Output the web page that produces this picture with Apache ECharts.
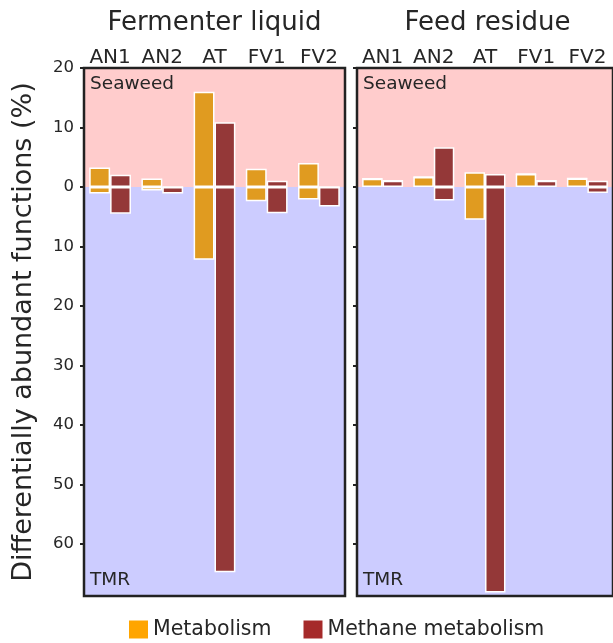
<!DOCTYPE html>
<html>
<head>
<meta charset="utf-8">
<script src="https://cdn.jsdelivr.net/npm/echarts@6/dist/echarts.min.js"></script>
<style>
html,body{margin:0;padding:0;background:#fff;}
#chart{width:613px;height:643px;}
</style>
</head>
<body>
<div id="chart"></div>
<script>
// ---- data ----
const categories = ['AN1', 'AN2', 'AT', 'FV1', 'FV2'];
const panelTitles = ['Fermenter liquid', 'Feed residue'];
const regionLabels = ['Seaweed', 'TMR'];
const seriesNames = ['Metabolism', 'Methane metabolism'];
const yTicks = [-60, -50, -40, -30, -20, -10, 0, 10, 20];

// Fermenter liquid
const fermMetSeaweed  = [3.3, 1.45, 16.0, 3.07, 4.03];
const fermMetTMR      = [-1.1, -0.6, -12.2, -2.4, -2.1];
const fermMethSeaweed = [2.07, 0, 10.9, 1.06, 0];
const fermMethTMR     = [-4.5, -1.1, -64.7, -4.4, -3.25];
// Feed residue
const feedMetSeaweed  = [1.4, 1.68, 2.5, 2.18, 1.45];
const feedMetTMR      = [0, 0, -5.5, 0, 0];
const feedMethSeaweed = [1.06, 6.7, 2.18, 1.06, 1.06];
const feedMethTMR     = [0, -2.25, -68.1, 0, -1.0];

const yMin = -68.7, yMax = 20;

// ---- styles ----
const FONT = 'DejaVu Sans';
const TXT = '#262626';
const barColors = ['#E09B20', '#943838'];
const legendColors = ['#FFA500', '#A52A2A'];
const pink = '#FFCCCC', blue = '#CCCCFF';

const chart = echarts.init(document.getElementById('chart'));

const gridLefts = [84, 357];
const gridTop = 68, gridW = 261, gridH = 528;
const grids = gridLefts.map(l => ({
  left: l, top: gridTop, width: gridW, height: gridH,
  show: true, backgroundColor: 'transparent',
  borderColor: '#222', borderWidth: 2.5, z: 5
}));

const xAxes = [0, 1].map(i => ({
  type: 'category', gridIndex: i, position: 'top', data: categories,
  axisLine: { show: false }, axisTick: { show: false },
  axisLabel: { fontFamily: FONT, fontSize: 20, color: TXT, margin: 0, interval: 0, hideOverlap: false }
}));

const yAxes = [0, 1].map(i => ({
  type: 'value', gridIndex: i, min: yMin, max: yMax, splitNumber: 9,
  axisLine: { show: false },
  splitLine: { show: false },
  axisTick: { show: true, length: 4, customValues: yTicks, lineStyle: { color: '#222', width: 2 } },
  axisLabel: {
    show: i === 0, fontFamily: FONT, fontSize: 16.5, color: TXT, margin: 10,
    customValues: yTicks,
    formatter: v => (Math.abs(v % 10) < 1e-6 ? String(Math.abs(v)) : '')
  },
  name: i === 0 ? 'Differentially abundant functions (%)' : '',
  nameLocation: 'middle', nameGap: 47,
  nameTextStyle: { fontFamily: FONT, fontSize: 27, color: TXT }
}));

const panelData = [
  [[fermMetSeaweed, fermMetTMR], [fermMethSeaweed, fermMethTMR]],
  [[feedMetSeaweed, feedMetTMR], [feedMethSeaweed, feedMethTMR]]
];

const series = [];
panelData.forEach((panel, p) => {
  panel.forEach((pair, s) => {
    pair.forEach((vals, k) => {
      const ser = {
        type: 'bar', name: seriesNames[s],
        xAxisIndex: p, yAxisIndex: p,
        stack: 'p' + p + 's' + s,
        data: vals,
        barGap: '0%', barCategoryGap: '20%',
        itemStyle: { color: barColors[s], borderColor: '#fff', borderWidth: 1.5 },
        emphasis: { disabled: true },
        z: 2
      };
      if (s === 0 && k === 0) {
        ser.markArea = {
          silent: true, z: 1, label: { show: false },
          data: [
            [{ yAxis: 0, itemStyle: { color: pink } }, { yAxis: yMax }],
            [{ yAxis: yMin, itemStyle: { color: blue } }, { yAxis: 0 }]
          ]
        };
      }
      series.push(ser);
    });
  });
});

const graphics = [];
panelTitles.forEach((t, i) => {
  graphics.push({
    type: 'text', x: gridLefts[i] + gridW / 2, y: 23,
    style: { text: t, fontFamily: FONT, fontSize: 26, fill: TXT, align: 'center', verticalAlign: 'middle' }
  });
  graphics.push({
    type: 'text', x: gridLefts[i] + 6, y: 84, z: 10,
    style: { text: regionLabels[0], fontFamily: FONT, fontSize: 18.5, fill: TXT, align: 'left', verticalAlign: 'middle' }
  });
  graphics.push({
    type: 'text', x: gridLefts[i] + 6, y: 580, z: 10,
    style: { text: regionLabels[1], fontFamily: FONT, fontSize: 18.5, fill: TXT, align: 'left', verticalAlign: 'middle' }
  });
});

chart.setOption({
  animation: false,
  textStyle: { fontFamily: FONT },
  grid: grids,
  xAxis: xAxes,
  yAxis: yAxes,
  legend: {
    left: 129, top: 619, padding: 0,
    itemWidth: 19, itemHeight: 18, itemGap: 32,
    icon: 'rect',
    selectedMode: false,
    textStyle: { fontFamily: FONT, fontSize: 20.5, color: TXT },
    data: seriesNames.map((n, i) => ({ name: n, itemStyle: { color: legendColors[i], borderWidth: 0 } }))
  },
  graphic: graphics,
  series: series
});
</script>
</body>
</html>
